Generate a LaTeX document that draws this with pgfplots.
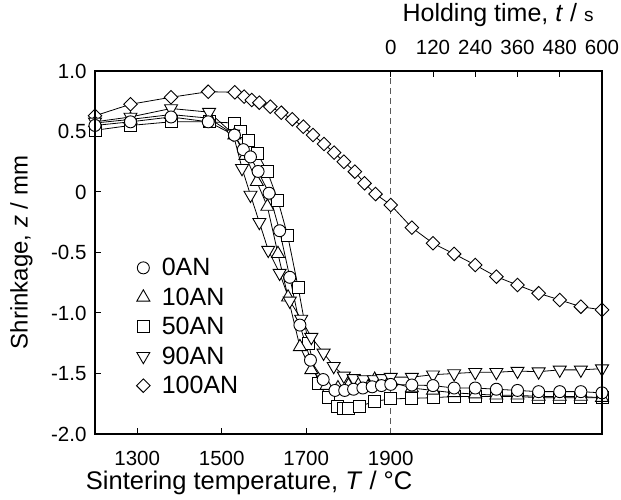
\documentclass[border=0pt]{standalone}
\usepackage{fontspec}
\setmainfont{Liberation Sans}
\usepackage{pgfplots}
\pgfplotsset{compat=1.18}

\pgfplotstableread{
x y
1200 0.55
1284 0.58
1380 0.62
1468 0.58
1530 0.47
1551 0.35
1568 0.29
1586 0.17
1612 -0.01
1637 -0.32
1661 -0.705
1685 -1.10
1710 -1.39
1740 -1.55
1768 -1.64
1791 -1.64
1812 -1.63
1834 -1.62
1856 -1.61
1878 -1.60
1900 -1.59
1950 -1.595
2000 -1.60
2050 -1.62
2100 -1.62
2150 -1.63
2200 -1.64
2250 -1.65
2300 -1.65
2350 -1.65
2400 -1.66
}\dataA

\pgfplotstableread{
x y
1200 0.57
1284 0.60
1380 0.64
1470 0.61
1530 0.47
1556 0.30
1583 0.085
1608 -0.12
1633 -0.51
1657 -0.87
1685 -1.28
1712 -1.47
1748 -1.60
1775 -1.62
1800 -1.60
1827 -1.57
1862 -1.55
1900 -1.57
1950 -1.62
2000 -1.64
2050 -1.66
2100 -1.67
2150 -1.68
2200 -1.68
2250 -1.69
2300 -1.69
2350 -1.69
2400 -1.70
}\dataB

\pgfplotstableread{
x y
1200 0.51
1284 0.55
1380 0.58
1470 0.58
1531 0.57
1545 0.50
1563 0.43
1584 0.32
1608 0.17
1633 -0.07
1656 -0.36
1681 -0.79
1705 -1.25
1728 -1.58
1752 -1.70
1775 -1.77
1788 -1.79
1800 -1.79
1827 -1.77
1862 -1.73
1900 -1.71
1950 -1.705
2000 -1.70
2050 -1.69
2100 -1.69
2150 -1.69
2200 -1.69
2250 -1.70
2300 -1.70
2350 -1.70
2400 -1.70
}\dataC

\pgfplotstableread{
x y
1200 0.58
1284 0.62
1380 0.69
1470 0.66
1527 0.48
1548 0.196
1568 -0.025
1589 -0.25
1610 -0.48
1637 -0.67
1661 -0.90
1688 -1.05
1712 -1.20
1741 -1.33
1765 -1.44
1789 -1.52
1812 -1.54
1836 -1.55
1860 -1.55
1880 -1.54
1900 -1.53
1950 -1.53
2000 -1.51
2050 -1.50
2100 -1.49
2150 -1.49
2200 -1.48
2250 -1.485
2300 -1.47
2350 -1.47
2400 -1.46
}\dataD

\pgfplotstableread{
x y
1200 0.63
1284 0.725
1380 0.783
1468 0.829
1531 0.824
1553 0.788
1571 0.760
1589 0.738
1615 0.705
1641 0.655
1667 0.601
1693 0.540
1716 0.471
1742 0.397
1766 0.325
1789 0.250
1815 0.168
1838 0.072
1864 -0.017
1900 -0.107
1950 -0.295
2000 -0.424
2050 -0.512
2100 -0.603
2150 -0.700
2200 -0.769
2250 -0.837
2300 -0.892
2350 -0.948
2400 -0.974
}\dataE

\begin{document}
\begin{tikzpicture}
\pgfplotsset{
  common/.style={
    scale only axis, width=507pt, height=363pt,
    xmin=1200, xmax=2400, ymin=-2, ymax=1,
    axis line style={line width=1.2pt, black},
    tick align=inside,
    major tick length=6pt,
    tick style={line width=1pt, black},
    /pgf/number format/assume math mode=true,
    ticklabel style={font=\fontsize{20.5}{24}\selectfont},
    label style={font=\fontsize{24}{28}\selectfont},
  },
  s0/.style={black, line width=0.8pt, mark=*, mark size=6pt, mark options={fill=white, line width=0.9pt}},
  s10/.style={black, line width=0.8pt, mark=triangle*, mark size=7.5pt, mark options={fill=white, line width=0.9pt}},
  s50/.style={black, line width=0.8pt, mark=square*, mark size=6pt, mark options={fill=white, line width=0.9pt}},
  s90/.style={black, line width=0.8pt, mark=triangle*, mark size=7.5pt, mark options={fill=white, line width=0.9pt, rotate=180}},
  s100/.style={black, line width=0.8pt, mark=square*, mark size=4.8pt, mark options={fill=white, line width=0.9pt, rotate=45}},
}
\begin{axis}[common, name=main,
  xtick={1300,1500,1700,1900},
  xticklabels={1300,1500,1700,1900},
  xtick pos=bottom,
  xticklabel style={anchor=north, inner sep=1pt, yshift=-16pt},
  ytick={-2,-1.5,-1,-0.5,0,0.5,1},
  yticklabels={-2.0,-1.5,-1.0,-0.5,0,0.5,1.0},
  yticklabel style={xshift=-5pt},
  ytick pos=left,
  xlabel={Sintering temperature, \textit{T} / °C},
  ylabel={Shrinkage, \textit{z} / mm},
  xlabel style={at={(axis description cs:0.304,-0.135)}, anchor=center, inner sep=1pt, font=\fontsize{25.5}{28}\selectfont},
  ylabel style={at={(axis description cs:-0.145,0.5)}, rotate=0, anchor=center},
  legend style={at={(axis cs:1290,-0.518)}, anchor=north west, draw=none, fill=none,
    font=\fontsize{25}{28}\selectfont, row sep=7.5pt,
    nodes={inner sep=1.5pt}},
  legend cell align=left,
  legend image code/.code={\draw[#1] plot coordinates {(0.25cm,0cm)}; \path[draw=none] (0,0) rectangle (0.25cm+17pt,0);},
]
\addplot[dashed, dash pattern=on 6pt off 4pt, line width=1pt, black!65, forget plot] coordinates {(1900,-2) (1900,1)};
\addplot[s100, forget plot] table {\dataE};
\addplot[s50, forget plot] table {\dataC};
\addplot[s10, forget plot] table {\dataB};
\addplot[s90, forget plot] table {\dataD};
\addplot[s0, forget plot] table {\dataA};
\addlegendimage{s0}\addlegendentry{0AN}
\addlegendimage{s10}\addlegendentry{10AN}
\addlegendimage{s50}\addlegendentry{50AN}
\addlegendimage{s90}\addlegendentry{90AN}
\addlegendimage{s100}\addlegendentry{100AN}
\end{axis}
\begin{axis}[common,
  xtick={1900,2000,2100,2200,2300,2400},
  xticklabels={0,120,240,360,480,600},
  xtick pos=top, xticklabel pos=top,
  xticklabel style={yshift=13pt},
  ytick=\empty,
  xlabel={Holding time, \textit{t} / {\fontsize{19}{22}\selectfont s}},
  xlabel style={at={(axis description cs:0.795,1.154)}, anchor=center, font=\fontsize{25}{28}\selectfont},
]
\end{axis}
\pgfresetboundingbox
\path ([shift={(-95pt,-66pt)}]main.south west) rectangle ([shift={(19pt,71pt)}]main.north east);
\end{tikzpicture}
\end{document}
